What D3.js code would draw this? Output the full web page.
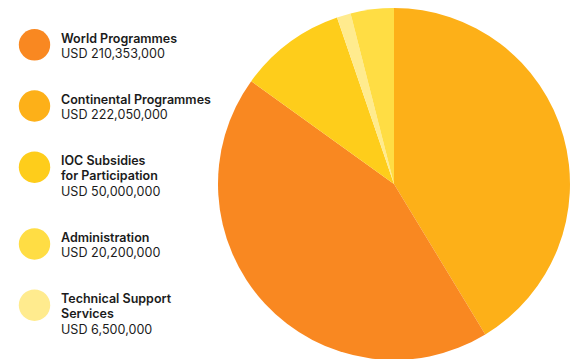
<!DOCTYPE html>
<html lang="en">
<head>
<meta charset="utf-8">
<title>Budget split</title>
<script src="https://cdn.jsdelivr.net/npm/d3@7/dist/d3.min.js"></script>
<style>
  body { margin: 0; background: #fff; }
  svg text { font-family: Inter, "Noto Sans", sans-serif; fill: #1b1b1b; }
  .ttl { font-weight: 600; font-size: 12.5px; }
  .val { font-weight: 400; font-size: 12.6px; }
</style>
</head>
<body>
<svg width="573" height="359"></svg>
<script>
// legend entries, top to bottom
var legendNames = [
  ["World Programmes"],
  ["Continental Programmes"],
  ["IOC Subsidies", "for Participation"],
  ["Administration"],
  ["Technical Support", "Services"]
];
var legendAmounts = ["USD 210,353,000", "USD 222,050,000", "USD 50,000,000", "USD 20,200,000", "USD 6,500,000"];
var legendColors = ["#f98821", "#fdb018", "#fecd1b", "#ffdd44", "#ffeb8e"];

// slices clockwise from 12 o'clock, as drawn in the source
// (the source pie gives the orange World slice the larger share)
var sliceNames = ["Continental Programmes", "World Programmes", "IOC Subsidies", "Technical Support Services", "Administration"];
var sliceValues = [210353000, 222050000, 50000000, 6500000, 20200000];
var sliceColors = ["#fdb018", "#f98821", "#fecd1b", "#ffeb8e", "#ffdd44"];

var svg = d3.select("svg");
var cx = 394, cy = 184, r = 176;

var pie = d3.pie().sort(null).value(function(d) { return d; });
var arc = d3.arc().innerRadius(0).outerRadius(r);

svg.append("g")
  .attr("transform", "translate(" + cx + "," + cy + ")")
  .selectAll("path")
  .data(pie(sliceValues))
  .enter().append("path")
  .attr("d", arc)
  .attr("fill", function(d, i) { return sliceColors[i]; });

// legend: each block is its lines plus the amount, then a gap
var lh = 15.6, gap = 30;
var y0 = 42.5, rowY = [];
legendNames.forEach(function(lines) {
  rowY.push(y0);
  y0 += (lines.length + 1) * lh + gap;
});

var rows = svg.append("g").selectAll("g")
  .data(legendNames)
  .enter().append("g")
  .attr("transform", function(d, i) { return "translate(0," + rowY[i] + ")"; });

rows.append("circle")
  .attr("cx", 34.5)
  .attr("cy", 2.3)
  .attr("r", 15.7)
  .attr("fill", function(d, i) { return legendColors[i]; });

rows.each(function(lines, i) {
  var g = d3.select(this);
  lines.forEach(function(t, k) {
    g.append("text").attr("class", "ttl").attr("x", 61).attr("y", k * lh).text(t);
  });
  g.append("text").attr("class", "val").attr("x", 61).attr("y", lines.length * lh).text(legendAmounts[i]);
});
</script>
</body>
</html>
